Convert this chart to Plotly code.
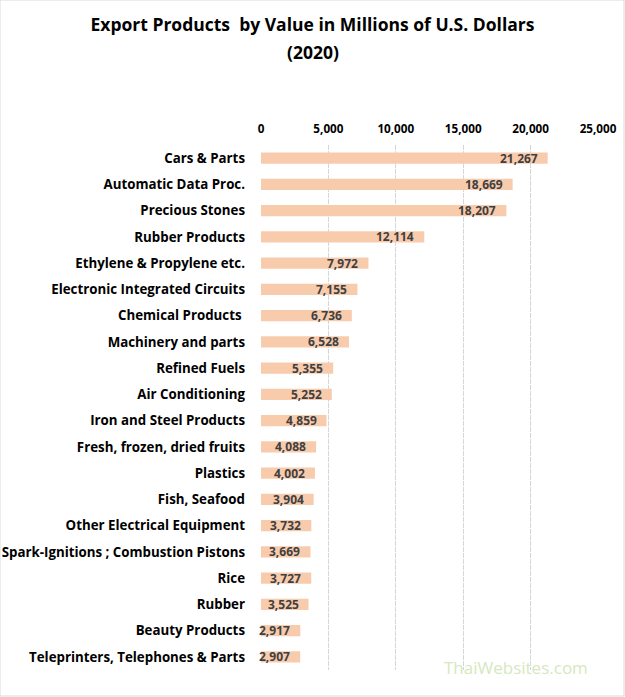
import plotly.graph_objects as go

categories = ["Cars & Parts", "Automatic Data Proc.", "Precious Stones", "Rubber Products",
              "Ethylene & Propylene etc.", "Electronic Integrated Circuits", "Chemical Products ",
              "Machinery and parts", "Refined Fuels", "Air Conditioning", "Iron and Steel Products",
              "Fresh, frozen, dried fruits", "Plastics", "Fish, Seafood", "Other Electrical Equipment",
              "Spark-Ignitions ; Combustion Pistons", "Rice", "Rubber", "Beauty Products",
              "Teleprinters, Telephones & Parts"]
values = [21267, 18669, 18207, 12114, 7972, 7155, 6736, 6528, 5355, 5252, 4859, 4088, 4002,
          3904, 3732, 3669, 3727, 3525, 2917, 2907]
tick_vals = [0, 5000, 10000, 15000, 20000, 25000]
title_line1 = "Export Products  by Value in Millions of U.S. Dollars"
title_line2 = "(2020)"

W, H = 625, 697
ml, mr, mt, mb = 261, 27, 145, 27
font_family = "Open Sans, sans-serif"
PH = H - mt - mb
PW = W - ml - mr

fig = go.Figure(go.Bar(
    x=values, y=categories, orientation="h",
    marker=dict(color="#F8CBAD", line=dict(width=0)),
    width=0.42,
    hoverinfo="x+y",
))

for v, c in zip(values, categories):
    fig.add_annotation(x=v, y=c, xref="x", yref="y", text=f"{v:,}", showarrow=False,
                       xanchor="right", yanchor="middle", xshift=-8,
                       font=dict(family=font_family, size=12, color="#404040", weight="bold"))

title_font = dict(family=font_family, size=17.5, color="#000000", weight="bold")
fig.update_layout(
    width=W, height=H,
    margin=dict(l=ml, r=mr, t=mt, b=mb, autoexpand=False),
    paper_bgcolor="white", plot_bgcolor="white",
    title=dict(text=title_line1, x=0.5, xanchor="center", y=1 - 25 / H, yanchor="middle",
               font=title_font),
    showlegend=False,
)
fig.add_annotation(text=title_line2, xref="paper", yref="paper",
                   x=(W / 2 - ml) / PW, y=(H - mb - 52) / PH,
                   xanchor="center", yanchor="middle", showarrow=False, font=title_font)

fig.update_xaxes(side="top", range=[0, 25000], tickvals=tick_vals, tickformat=",",
                 showgrid=True, gridcolor="#D6D6D6", griddash="5px,1px", gridwidth=1,
                 zeroline=False, showline=False, ticks="", automargin=False,
                 ticklabelstandoff=9,
                 tickfont=dict(family=font_family, size=11.7, color="#000000", weight="bold"))
fig.update_yaxes(autorange="reversed", showgrid=False, showline=False, ticks="",
                 ticklabelstandoff=15, automargin=False,
                 tickfont=dict(family=font_family, size=13.3, color="#000000", weight="bold"))

fig.add_annotation(text="ThaiWebsites.com", xref="paper", yref="paper",
                   x=(590 - ml) / PW, y=(H - mb - 667) / PH,
                   xanchor="right", yanchor="middle", showarrow=False,
                   font=dict(family="Open Sans, sans-serif", size=17, color="#D6E8BE"))

fig.add_shape(type="rect", xref="paper", yref="paper", x0=-ml / PW, x1=1 + (mr - 1) / PW,
              y0=-(mb - 1) / PH, y1=1 + mt / PH,
              line=dict(color="#D9D9D9", width=1))

fig.write_html("out.html", config={"displayModeBar": False},
               post_script="document.body.style.margin='0';")
